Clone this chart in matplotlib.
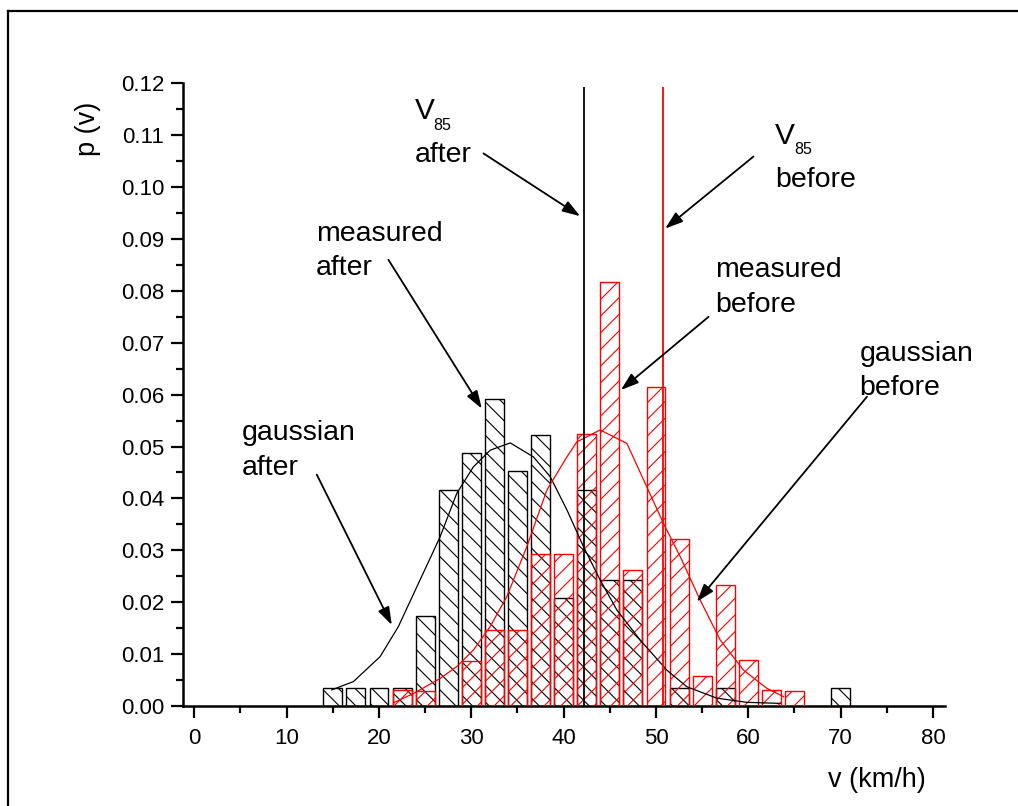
import matplotlib.pyplot as plt
from matplotlib.lines import Line2D
from matplotlib.ticker import MultipleLocator, FormatStrFormatter

plt.rcParams['font.family'] = ['Liberation Sans', 'DejaVu Sans']
plt.rcParams['hatch.linewidth'] = 0.8

# histogram bins (km/h) and measured densities
bin_centers = [15, 17.5, 20, 22.5, 25, 27.5, 30, 32.5, 35, 37.5, 40, 42.5,
               45, 47.5, 50, 52.5, 55, 57.5, 60, 62.5, 65, 67.5, 70]
p_after = [0.0035, 0.0035, 0.0035, 0.0035, 0.0174, 0.0417, 0.0487, 0.0591,
           0.0452, 0.0522, 0.0209, 0.0417, 0.0243, 0.0243, 0.0, 0.0035,
           0.0, 0.0035, 0.0, 0.0, 0.0, 0.0, 0.0035]
p_before = [0.0, 0.0, 0.0, 0.0031, 0.0029, 0.0, 0.0087, 0.0146,
            0.0146, 0.0293, 0.0293, 0.0525, 0.0817, 0.0263, 0.0614, 0.0321,
            0.0058, 0.0234, 0.0089, 0.0031, 0.0029, 0.0, 0.0]

# fitted gaussian curves
gauss_after_v = [14.89, 17.23, 20.12, 22.10, 24.45, 26.62, 28.43, 30.23, 32.05,
                 34.22, 36.73, 38.54, 40.35, 42.15, 43.95, 45.76, 48.29, 51.18,
                 53.35, 56.60, 59.85, 63.46]
gauss_after_p = [0.0031, 0.0047, 0.0095, 0.0153, 0.0243, 0.0326, 0.0410, 0.0461,
                 0.0493, 0.0507, 0.0480, 0.0442, 0.0378, 0.0307, 0.0243, 0.0185,
                 0.0127, 0.0069, 0.0037, 0.0015, 0.0007, 0.0005]
gauss_before_v = [21.56, 23.73, 26.62, 28.43, 30.23, 32.04, 33.85, 36.01, 38.18,
                  40.35, 41.43, 43.95, 46.85, 49.01, 50.81, 52.62, 54.79, 56.96,
                  59.48, 62.01, 63.81]
gauss_before_p = [0.0006, 0.0024, 0.0053, 0.0076, 0.0108, 0.0153, 0.0211, 0.0307,
                  0.0416, 0.0480, 0.0509, 0.0532, 0.0506, 0.0422, 0.0352, 0.0288,
                  0.0204, 0.0127, 0.0069, 0.0034, 0.0018]

v85_after = 42.2
v85_before = 50.8

fig = plt.figure(figsize=(10.18, 8.06), dpi=100)
ax = fig.add_axes([0.1798, 0.1241, 0.7485, 0.7725])

ax.bar(bin_centers, p_after, width=2.05, fill=False, edgecolor='black',
       hatch='\\\\', linewidth=1.0, zorder=2)
ax.bar(bin_centers, p_before, width=2.05, fill=False, edgecolor='red',
       hatch='//', linewidth=1.0, zorder=3)

ax.plot(gauss_after_v, gauss_after_p, color='black', lw=0.9, zorder=4)
ax.plot(gauss_before_v, gauss_before_p, color='red', lw=0.9, zorder=4)

ax.vlines(v85_after, 0, 0.1192, color='black', lw=1.3, zorder=5)
ax.vlines(v85_before, 0, 0.1192, color='red', lw=1.3, zorder=5)

ax.set_xlim(-1.22, 81.3)
ax.set_ylim(0, 0.12)
ax.xaxis.set_major_locator(MultipleLocator(10))
ax.xaxis.set_minor_locator(MultipleLocator(5))
ax.yaxis.set_major_locator(MultipleLocator(0.01))
ax.yaxis.set_minor_locator(MultipleLocator(0.005))
ax.yaxis.set_major_formatter(FormatStrFormatter('%.2f'))
for s in ['top', 'right']:
    ax.spines[s].set_visible(False)
for s in ['left', 'bottom']:
    ax.spines[s].set_linewidth(1.8)
ax.tick_params(which='major', direction='out', length=8.5, width=1.6,
               labelsize=16)
ax.tick_params(which='minor', direction='out', length=5, width=1.6)
ax.tick_params(axis='x', pad=7)
ax.tick_params(axis='y', pad=5)

ax.text(-0.1247, 0.9266, 'p (v)', transform=ax.transAxes, rotation=90,
        ha='center', va='center', fontsize=19.5)
ax.text(0.846, -0.1296, 'v (km/h)', transform=ax.transAxes,
        ha='left', va='baseline', fontsize=19.5)

# annotations
fs = 20.5
ax.text(23.9, 0.1131, 'V', fontsize=21.5, va='baseline')
ax.text(25.86, 0.1111, '85', fontsize=11.5, va='baseline')
ax.text(23.9, 0.1048, 'after', fontsize=fs, va='baseline')

ax.text(62.9, 0.1084, 'V', fontsize=21.5, va='baseline')
ax.text(64.97, 0.1063, '85', fontsize=11.5, va='baseline')
ax.text(62.9, 0.1000, 'before', fontsize=fs, va='baseline')

ax.text(13.19, 0.0896, 'measured', fontsize=fs, va='baseline')
ax.text(13.19, 0.0830, 'after', fontsize=fs, va='baseline')

ax.text(56.4, 0.0826, 'measured', fontsize=fs, va='baseline')
ax.text(56.4, 0.0759, 'before', fontsize=fs, va='baseline')

ax.text(72.05, 0.0665, 'gaussian', fontsize=fs, va='baseline')
ax.text(72.05, 0.0599, 'before', fontsize=fs, va='baseline')

ax.text(5.14, 0.0512, 'gaussian', fontsize=fs, va='baseline')
ax.text(5.14, 0.0445, 'after', fontsize=fs, va='baseline')

arrows = [
    ((31.31, 0.1065), (41.79, 0.0944)),
    ((60.56, 0.1059), (50.99, 0.0920)),
    ((21.02, 0.0860), (31.14, 0.0573)),
    ((55.69, 0.0750), (46.20, 0.0609)),
    ((72.85, 0.0596), (54.43, 0.0201)),
    ((13.26, 0.0446), (21.39, 0.0156)),
]
for start, tip in arrows:
    ax.annotate('', xy=tip, xytext=start,
                arrowprops=dict(arrowstyle='-|>,head_length=0.6,head_width=0.2',
                                color='black', lw=1.3, mutation_scale=18,
                                shrinkA=0, shrinkB=0), zorder=6)

# outer frame (top and left edges only are visible)
fig.add_artist(Line2D([0.0079, 0.0079], [0, 0.9864], transform=fig.transFigure,
                      color='black', lw=1.6))
fig.add_artist(Line2D([0.0079, 1.0], [0.9864, 0.9864], transform=fig.transFigure,
                      color='black', lw=1.6))

fig.savefig('out.png', dpi=100)
